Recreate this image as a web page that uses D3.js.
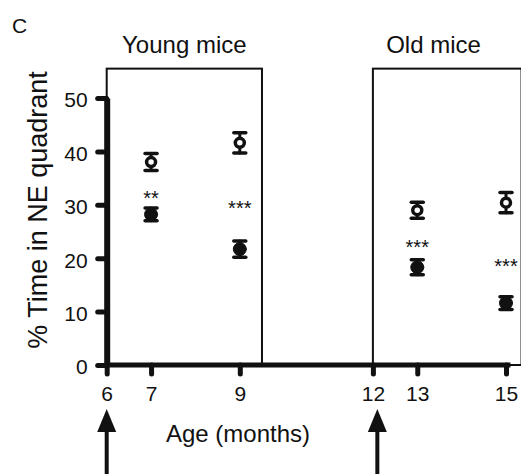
<!DOCTYPE html>
<html>
<head>
<meta charset="utf-8">
<script src="https://cdn.jsdelivr.net/npm/d3@7"></script>
<style>
  html, body { margin: 0; padding: 0; background: #fff; }
  svg { display: block; font-family: "Liberation Sans", Arial, sans-serif; }
</style>
</head>
<body>
<svg id="chart"></svg>
<script>
// Ages (months) at which mice were tested
const months = [7, 9, 13, 15];
// Open symbols (control) and filled symbols (treated), mean and SEM
const controlMean = [38.0, 41.6, 29.0, 30.4];
const controlSem = [1.6, 1.9, 1.5, 1.9];
const treatedMean = [28.2, 21.7, 18.3, 11.6];
const treatedSem = [1.2, 1.5, 1.4, 1.2];
// Significance marks and the height (in %) they sit at
const sigLabels = ["**", "***", "***", "***"];
const sigLevel = [32.4, 30.5, 23.2, 19.6];
// Axis ticks
const xTicks = [6, 7, 9, 12, 13, 15];
const yTicks = [0, 10, 20, 30, 40, 50];
// Outlined periods and arrows at start of each period
const periods = [
  { label: "Young mice", from: 6, to: 9.5, top: 55.5 },
  { label: "Old mice", from: 12, to: 15.35, top: 55.5 }
];
const arrowMonths = [6, 12.1];

const width = 521, height = 474;
const svg = d3.select("#chart").attr("width", width).attr("height", height);

const x = d3.scaleLinear().domain([6, 15]).range([106.7, 506]);
const y = d3.scaleLinear().domain([0, 50]).range([365, 98]);

const ink = "#111";

// Panel letter
svg.append("text").attr("x", 12).attr("y", 33)
  .style("font-size", "21px").attr("fill", ink).text("C");

// Period boxes
svg.selectAll(".period").data(periods).enter()
  .append("rect")
  .attr("class", "period")
  .attr("x", d => x(d.from))
  .attr("y", d => y(d.top))
  .attr("width", d => x(d.to) - x(d.from))
  .attr("height", d => y(0) - y(d.top))
  .attr("fill", "none").attr("stroke", ink).attr("stroke-width", 2);

svg.selectAll(".period-label").data(periods).enter()
  .append("text")
  .attr("class", "period-label")
  .attr("x", (d, i) => i === 0 ? (x(d.from) + x(d.to)) / 2 : 433.5)
  .attr("y", 53)
  .attr("text-anchor", "middle")
  .style("font-size", "24px").attr("fill", ink)
  .text(d => d.label);

// X axis
const xAxis = svg.append("g").attr("transform", `translate(0,${y(0)})`)
  .call(d3.axisBottom(x).tickValues(xTicks).tickSize(11).tickPadding(10)
    .tickSizeOuter(0));
xAxis.select(".domain").attr("stroke", ink).attr("stroke-width", 5)
  .attr("d", `M${x(6)},0H${x(15.1)}`);
xAxis.selectAll(".tick line").attr("stroke", ink).attr("stroke-width", 5)
  .attr("stroke-linecap", "round").attr("y1", 0).attr("y2", 9);
xAxis.selectAll(".tick text").style("font-size", "21px").attr("fill", ink)
  .attr("font-family", null);

// Y axis
const yAxis = svg.append("g").attr("transform", `translate(${x(6)},0)`)
  .call(d3.axisLeft(y).tickValues(yTicks).tickSize(10).tickPadding(9)
    .tickSizeOuter(0));
yAxis.select(".domain").attr("stroke", ink).attr("stroke-width", 6);
yAxis.selectAll(".tick line").attr("stroke", ink).attr("stroke-width", 5)
  .attr("stroke-linecap", "round").attr("x2", -9);
yAxis.selectAll(".tick text").style("font-size", "21px").attr("fill", ink)
  .attr("font-family", null).attr("dy", "0.42em");

// Axis titles
svg.append("text")
  .attr("x", 238).attr("y", 442)
  .attr("text-anchor", "middle")
  .style("font-size", "24px").attr("fill", ink)
  .text("Age (months)");

svg.append("text")
  .attr("transform", "translate(47,210) rotate(-90)")
  .attr("text-anchor", "middle")
  .style("font-size", "27px").attr("fill", ink)
  .text("% Time in NE quadrant");

// Arrows marking start of each period
const arrows = svg.selectAll(".arrow").data(arrowMonths).enter()
  .append("g").attr("class", "arrow")
  .attr("transform", d => `translate(${x(d)},0)`);
arrows.append("line")
  .attr("x1", 0).attr("x2", 0).attr("y1", 428).attr("y2", height + 2)
  .attr("stroke", ink).attr("stroke-width", 4);
arrows.append("path")
  .attr("d", "M0,409L9.5,432L-9.5,432Z")
  .attr("fill", ink);

// Error bars + points
function drawSeries(means, sems, filled) {
  const rows = months.map((m, i) => ({ m, v: means[i], e: sems[i] }));
  const g = svg.append("g");
  const bar = g.selectAll("g").data(rows).enter().append("g")
    .attr("stroke", ink).attr("stroke-linecap", "round");
  bar.append("line")
    .attr("x1", d => x(d.m)).attr("x2", d => x(d.m))
    .attr("y1", d => y(d.v + d.e)).attr("y2", d => y(d.v - d.e))
    .attr("stroke-width", 3);
  bar.selectAll(".cap").data(d => [[d.m, d.v + d.e], [d.m, d.v - d.e]]).enter()
    .append("line").attr("class", "cap")
    .attr("x1", d => x(d[0]) - 6).attr("x2", d => x(d[0]) + 6)
    .attr("y1", d => y(d[1])).attr("y2", d => y(d[1]))
    .attr("stroke-width", 3.5);
  bar.append("circle")
    .attr("cx", d => x(d.m)).attr("cy", d => y(d.v))
    .attr("r", filled ? 6.5 : 4.5)
    .attr("fill", filled ? ink : "#fff")
    .attr("stroke-width", filled ? 1 : 3.5);
}
drawSeries(controlMean, controlSem, false);
drawSeries(treatedMean, treatedSem, true);

// Significance stars
svg.selectAll(".sig").data(months).enter()
  .append("text").attr("class", "sig")
  .attr("x", d => x(d))
  .attr("y", (d, i) => y(sigLevel[i]) + 13)
  .attr("text-anchor", "middle")
  .style("font-size", "20px").attr("fill", ink)
  .text((d, i) => sigLabels[i]);
</script>
</body>
</html>
